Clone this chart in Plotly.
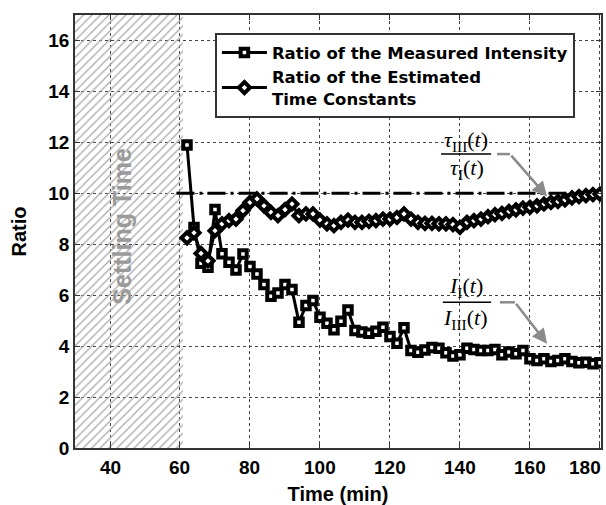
import plotly.graph_objects as go

# ---------------- data ----------------
TIME = [62, 64, 66, 68, 70, 72, 74, 76, 78, 80, 82, 84, 86, 88, 90, 92, 94, 96, 98, 100,
        102, 104, 106, 108, 110, 112, 114, 116, 118, 120, 122, 124, 126, 128, 130, 132, 134, 136, 138, 140,
        142, 144, 146, 148, 150, 152, 154, 156, 158, 160, 162, 164, 166, 168, 170, 172, 174, 176, 178, 180]

INTENSITY_RATIO = [11.9, 8.66, 7.25, 7.10, 9.36, 7.63, 7.29, 6.99, 7.62, 7.13,
                   6.83, 6.42, 5.96, 6.09, 6.42, 6.22, 4.94, 5.59, 5.79, 5.13,
                   4.90, 4.64, 4.98, 5.42, 4.61, 4.55, 4.51, 4.58, 4.74, 4.38,
                   4.11, 4.72, 3.83, 3.76, 3.85, 3.95, 3.92, 3.74, 3.61, 3.66,
                   3.92, 3.87, 3.83, 3.83, 3.87, 3.66, 3.77, 3.70, 3.83, 3.50,
                   3.44, 3.50, 3.40, 3.44, 3.50, 3.40, 3.35, 3.37, 3.31, 3.35]

TAU_RATIO = [8.25, 8.45, 7.64, 7.35, 8.53, 8.80, 8.93, 8.99, 9.32, 9.64,
             9.78, 9.51, 9.25, 9.12, 9.36, 9.58, 9.12, 9.19, 9.19, 8.95,
             8.80, 8.73, 8.86, 8.95, 8.86, 8.86, 8.90, 8.93, 8.99, 8.99,
             9.05, 9.19, 8.99, 8.86, 8.82, 8.82, 8.80, 8.80, 8.77, 8.66,
             8.86, 8.93, 8.99, 9.08, 9.16, 9.21, 9.29, 9.35, 9.42, 9.45,
             9.51, 9.58, 9.64, 9.68, 9.74, 9.82, 9.87, 9.91, 9.95, 9.97]

REFERENCE_X = [59, 180]
REFERENCE_Y = [10, 10]

SETTLING_START = 30
SETTLING_END = 61
Y_MAX = 17

X_TICKS = [40, 60, 80, 100, 120, 140, 160, 180]
X_TICK_LABELS = ["40", "60", "80", "100", "120", "140", "160", "180"]
Y_TICKS = [0, 2, 4, 6, 8, 10, 12, 14, 16]

LEGEND_NAMES = ["Ratio of the Measured Intensity",
                "Ratio of the Estimated<br>Time Constants"]

# ---------------- figure ----------------
SANS = "Liberation Sans, Arial, sans-serif"
WIDE = "DejaVu Sans, Liberation Sans, sans-serif"
SERIF = "Liberation Serif, Times New Roman, serif"

fig = go.Figure()

# hatched settling-time region
fig.add_trace(go.Bar(
    x=[(SETTLING_START + SETTLING_END) / 2], y=[Y_MAX], base=0,
    width=[SETTLING_END - SETTLING_START],
    marker=dict(color="#a9a9a9", line=dict(width=0),
                pattern=dict(shape="/", size=6, solidity=0.22, fillmode="replace")),
    showlegend=False, hoverinfo="skip"))

# reference dash-dot line at 10
fig.add_trace(go.Scatter(
    x=REFERENCE_X, y=REFERENCE_Y, mode="lines",
    line=dict(color="black", width=3, dash="18px,5px,3px,5px"),
    showlegend=False, hoverinfo="skip"))

fig.add_trace(go.Scatter(
    x=TIME, y=INTENSITY_RATIO, mode="lines+markers", name=LEGEND_NAMES[0],
    line=dict(color="black", width=3),
    marker=dict(symbol="square", size=7.5, color="white",
                line=dict(color="black", width=4))))

fig.add_trace(go.Scatter(
    x=TIME, y=TAU_RATIO, mode="lines+markers", name=LEGEND_NAMES[1],
    line=dict(color="black", width=3),
    marker=dict(symbol="diamond", size=8.5, color="white",
                line=dict(color="black", width=4))))

annotations = []
# x tick labels (the last one is right-aligned to fit the page)
for v, t in zip(X_TICKS, X_TICK_LABELS):
    last = v == X_TICKS[-1]
    annotations.append(dict(
        x=v, y=0, xref="x", yref="paper", text=t, showarrow=False,
        xanchor="right" if last else "center", yanchor="top",
        xshift=3 if last else 0, yshift=-7,
        font=dict(family=SANS, size=19, color="black", weight="bold")))

# Settling Time label
annotations.append(dict(
    x=43.5, y=8.7, xref="x", yref="y", text="<b>Settling Time</b>", showarrow=False,
    textangle=-90, font=dict(family=SANS, size=25, color="#9a9a9a")))

# fraction labels
frac_font = dict(family=SERIF, size=22, color="black")
annotations += [
    dict(x=141.6, y=12.06, xref="x", yref="y", showarrow=False, font=frac_font,
         text="<i>τ</i><sub>III</sub>(<i>t</i>)"),
    dict(x=142.0, y=10.96, xref="x", yref="y", showarrow=False, font=frac_font,
         text="<i>τ</i><sub>I</sub>(<i>t</i>)"),
    dict(x=141.8, y=6.31, xref="x", yref="y", showarrow=False, font=frac_font,
         text="<i>I</i><sub>I</sub>(<i>t</i>)"),
    dict(x=141.6, y=5.08, xref="x", yref="y", showarrow=False, font=frac_font,
         text="<i>I</i><sub>III</sub>(<i>t</i>)"),
]
# gray arrows
arrow_col = "#8a8a8a"
annotations += [
    dict(x=164.9, y=9.87, ax=154.3, ay=11.54, xref="x", yref="y", axref="x", ayref="y",
         text="", showarrow=True, arrowhead=2, arrowsize=1.2, arrowwidth=2.5,
         arrowcolor=arrow_col, standoff=0),
    dict(x=164.9, y=4.09, ax=155.7, ay=5.72, xref="x", yref="y", axref="x", ayref="y",
         text="", showarrow=True, arrowhead=2, arrowsize=1.2, arrowwidth=2.5,
         arrowcolor=arrow_col, standoff=0),
]

shapes = [
    dict(type="line", xref="x", yref="y", x0=134.6, x1=148.9, y0=11.54, y1=11.54,
         line=dict(color="black", width=1.5)),
    dict(type="line", xref="x", yref="y", x0=135.1, x1=148.9, y0=5.72, y1=5.72,
         line=dict(color="black", width=1.5)),
    dict(type="line", xref="x", yref="y", x0=150.6, x1=154.3, y0=11.54, y1=11.54,
         line=dict(color=arrow_col, width=2.5)),
    dict(type="line", xref="x", yref="y", x0=151.4, x1=155.7, y0=5.72, y1=5.72,
         line=dict(color=arrow_col, width=2.5)),
]

axis_common = dict(
    showline=True, linecolor="#333", linewidth=1.5, mirror="ticks",
    ticks="inside", ticklen=5, tickcolor="#333", tickwidth=1.2,
    showgrid=True, gridcolor="#444", griddash="dot", gridwidth=1.3,
    zeroline=False,
    tickfont=dict(family=SANS, size=19, color="black", weight="bold"),
)

fig.update_layout(
    width=606, height=505,
    margin=dict(l=75, r=3, t=15, b=57),
    plot_bgcolor="white", paper_bgcolor="white",
    xaxis=dict(range=[30, 180.3], tickvals=X_TICKS, showticklabels=False,
               title=dict(text="<b>Time (min)</b>", standoff=38,
                          font=dict(family=SANS, size=20, color="black")),
               **axis_common),
    yaxis=dict(range=[0, Y_MAX], tickvals=Y_TICKS,
               title=dict(text="<b>Ratio</b>", standoff=16,
                          font=dict(family=SANS, size=20, color="black")),
               **axis_common),
    legend=dict(x=0.266, y=0.958, xanchor="left", yanchor="top",
                bgcolor="white", bordercolor="#333", borderwidth=2,
                font=dict(family=WIDE, size=16.5, color="black", weight="bold"),
                tracegroupgap=0, itemwidth=45),
    annotations=annotations, shapes=shapes,
    showlegend=True, bargap=0,
)

fig.write_html("out.html")
